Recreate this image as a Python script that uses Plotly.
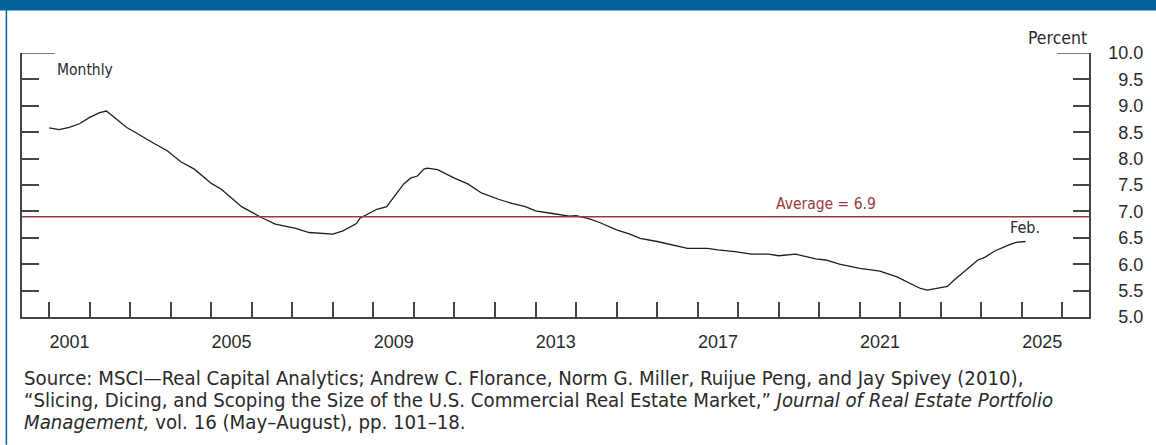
import plotly.graph_objects as go

# ---- data ----
dates = ["2001-01","2001-04","2001-07","2001-10","2002-01","2002-04","2002-06","2002-07","2002-12",
         "2003-03","2003-04","2003-08","2003-12","2004-04","2004-08","2005-01","2005-04","2005-10",
         "2006-04","2006-08","2007-02","2007-06","2008-01","2008-04","2008-08","2008-09","2009-02",
         "2009-05","2009-06","2009-08","2009-10","2009-12","2010-02","2010-04","2010-05","2010-08",
         "2010-10","2011-01","2011-05","2011-09","2012-02","2012-06","2012-10","2013-01","2013-06",
         "2013-11","2014-01","2014-05","2014-08","2015-01","2015-05","2015-08","2016-01","2016-06",
         "2016-10","2017-04","2017-07","2017-12","2018-05","2018-10","2019-01","2019-06","2019-12",
         "2020-03","2020-07","2021-01","2021-07","2021-12","2022-03","2022-07","2022-09","2022-12",
         "2023-03","2023-05","2023-08","2023-12","2024-02","2024-05","2024-09","2024-11","2025-02"]
cap_rate = [8.58,8.55,8.59,8.66,8.78,8.87,8.90,8.85,8.59,
            8.48,8.44,8.29,8.15,7.94,7.80,7.53,7.42,7.09,
            6.88,6.76,6.68,6.60,6.57,6.63,6.77,6.87,7.04,
            7.09,7.18,7.34,7.52,7.63,7.67,7.80,7.82,7.79,
            7.72,7.63,7.52,7.35,7.23,7.15,7.09,7.01,6.96,
            6.91,6.92,6.86,6.79,6.65,6.57,6.49,6.43,6.36,
            6.30,6.30,6.27,6.24,6.19,6.19,6.16,6.19,6.10,
            6.08,6.00,5.92,5.87,5.76,5.67,5.54,5.51,5.54,
            5.58,5.70,5.86,6.08,6.13,6.25,6.36,6.41,6.43]
average_value = 6.9
y_ticks = [5.0, 5.5, 6.0, 6.5, 7.0, 7.5, 8.0, 8.5, 9.0, 9.5, 10.0]
x_labels = ["2001", "2005", "2009", "2013", "2017", "2021", "2025"]
x_range = ["2000-05-01", "2026-08-28"]
source_lines = [
    "Source: MSCI\u2014Real Capital Analytics; Andrew C. Florance, Norm G. Miller, Ruijue Peng, and Jay Spivey (2010),",
    "\u201cSlicing, Dicing, and Scoping the Size of the U.S. Commercial Real Estate Market,\u201d <i>Journal of Real Estate Portfolio</i>",
    "<i>Management,</i> vol. 16 (May\u2013August), pp. 101\u201318.",
]

# ---- styling ----
BLUE = "#03639a"
RED = "#983a3e"
AX = "#444444"
TXT = "#2a2a2a"
COND = "DejaVu Sans Condensed, Liberation Sans Narrow, Liberation Sans, sans-serif"
NUM = "Liberation Sans, Arial, sans-serif"

W, H = 1156, 445
L, R, T, B = 22.3, 1089, 53.3, 317.3
pw, ph = R - L, B - T

def px(x):
    return (x - L) / pw

def py(y):
    return (B - y) / ph

fig = go.Figure()
fig.add_trace(go.Scatter(x=dates, y=cap_rate, mode="lines",
                         line=dict(color="#1e1e1e", width=1.3),
                         hoverinfo="skip", showlegend=False))
# same series bound to the right-hand axis (invisible) so that axis is drawn
fig.add_trace(go.Scatter(x=dates, y=cap_rate, mode="lines", yaxis="y2", opacity=0,
                         line=dict(width=0), hoverinfo="skip", showlegend=False))

alias = {str(y): " " for y in range(1999, 2028) if str(y) not in x_labels}

fig.update_layout(
    width=W, height=H,
    margin=dict(l=L, r=W - R, t=T, b=H - B, pad=0),
    paper_bgcolor="white", plot_bgcolor="white",
    showlegend=False,
    xaxis=dict(type="date", range=x_range, tick0="2001-01-01", dtick="M12",
               ticklabelmode="period", tickformat="%Y", labelalias=alias,
               ticks="inside", ticklen=15, tickwidth=1.5, tickcolor=AX,
               showline=True, linecolor=AX, linewidth=1.5,
               showgrid=False, zeroline=False,
               tickfont=dict(family=NUM, size=18, color=TXT),
               ticklabelstandoff=8),
    yaxis=dict(range=[5, 10], tickvals=y_ticks, ticks="inside", ticklen=17,
               tickwidth=1.5, tickcolor=AX, showticklabels=False,
               showline=True, linecolor=AX, linewidth=1.5,
               showgrid=False, zeroline=False),
    yaxis2=dict(range=[5, 10], overlaying="y", side="right", anchor="x",
                tickvals=y_ticks,
                ticktext=[("%.1f" % v) if v >= 10 else "\u00a0\u00a0" + ("%.1f" % v) for v in y_ticks],
                ticks="inside", ticklen=16, tickwidth=1.5, tickcolor=AX,
                showline=True, linecolor=AX, linewidth=1.5,
                showgrid=False, zeroline=False,
                tickfont=dict(family=NUM, size=18, color=TXT),
                ticklabelstandoff=14),
)

shapes = [
    dict(type="rect", xref="paper", yref="paper", x0=px(0), x1=px(W), y0=py(10.7), y1=py(0),
         fillcolor=BLUE, line=dict(width=0), layer="above"),
    dict(type="line", xref="paper", yref="paper", x0=px(6.7), x1=px(6.7), y0=py(10), y1=py(H),
         line=dict(color=BLUE, width=1.5)),
    dict(type="line", xref="paper", yref="y", x0=0, x1=px(55), y0=10, y1=10,
         line=dict(color=AX, width=1.5)),
    dict(type="line", xref="paper", yref="y", x0=px(1057), x1=1, y0=10, y1=10,
         line=dict(color=AX, width=1.5)),
    dict(type="line", xref="paper", yref="y", x0=0, x1=1, y0=average_value, y1=average_value,
         line=dict(color=RED, width=1.5)),
]
fig.update_layout(shapes=shapes)

annotations = [
    dict(text="Monthly", xref="paper", yref="paper", x=px(55), y=py(70), xanchor="left",
         yanchor="middle", showarrow=False, font=dict(family=COND, size=15.5, color=TXT)),
    dict(text="Percent", xref="paper", yref="paper", x=1, y=py(38), xanchor="right",
         yanchor="middle", showarrow=False, font=dict(family=COND, size=17.5, color=TXT)),
    dict(text="Average = %.1f" % average_value, xref="x", yref="y", x="2020-03-01",
         y=average_value, xanchor="center", yanchor="bottom", yshift=2, showarrow=False,
         font=dict(family=COND, size=15.5, color=RED)),
    dict(text="Feb.", xref="x", yref="y", x=dates[-1], y=cap_rate[-1], xanchor="center",
         yanchor="bottom", yshift=3, showarrow=False, font=dict(family=COND, size=16, color=TXT)),
]
for i, line in enumerate(source_lines):
    annotations.append(dict(text=line, xref="paper", yref="paper", x=px(22), y=py(378 + 22 * i),
                            xanchor="left", yanchor="middle", align="left", showarrow=False,
                            font=dict(family=COND, size=20.2, color=TXT)))
fig.update_layout(annotations=annotations)

fig.write_html("out.html", config={"displayModeBar": False},
               post_script="document.body.style.margin='0';")
